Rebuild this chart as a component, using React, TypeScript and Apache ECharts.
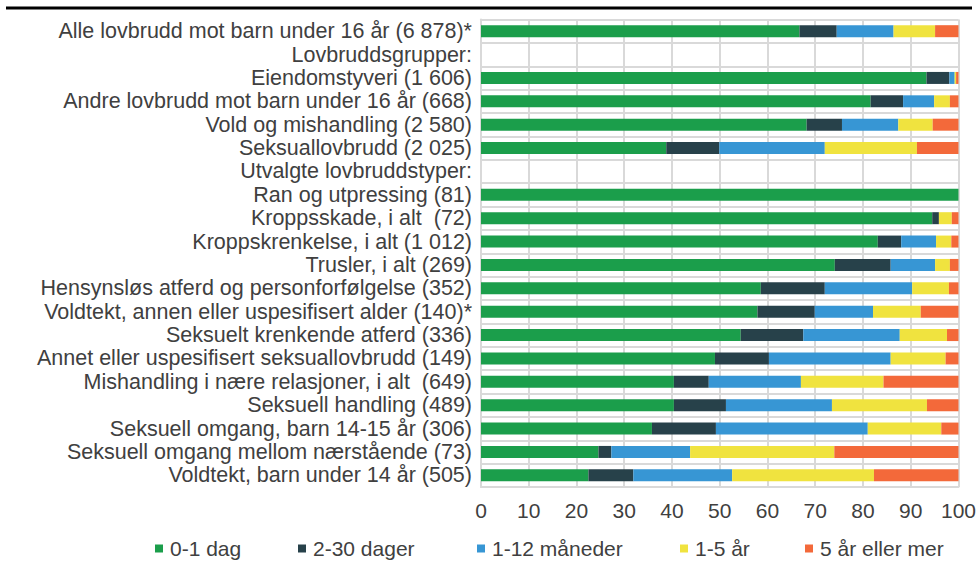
import React, { useEffect, useRef } from "react";
import * as echarts from "echarts";

const categories = [
  "Alle lovbrudd mot barn under 16 år (6 878)*",
  "Lovbruddsgrupper:",
  "Eiendomstyveri (1 606)",
  "Andre lovbrudd mot barn under 16 år (668)",
  "Vold og mishandling (2 580)",
  "Seksuallovbrudd (2 025)",
  "Utvalgte lovbruddstyper:",
  "Ran og utpressing (81)",
  "Kroppsskade, i alt  (72)",
  "Kroppskrenkelse, i alt (1 012)",
  "Trusler, i alt (269)",
  "Hensynsløs atferd og personforfølgelse (352)",
  "Voldtekt, annen eller uspesifisert alder (140)*",
  "Seksuelt krenkende atferd (336)",
  "Annet eller uspesifisert seksuallovbrudd (149)",
  "Mishandling i nære relasjoner, i alt  (649)",
  "Seksuell handling (489)",
  "Seksuell omgang, barn 14-15 år (306)",
  "Seksuell omgang mellom nærstående (73)",
  "Voldtekt, barn under 14 år (505)",
];

const seriesNames = ["0-1 dag", "2-30 dager", "1-12 måneder", "1-5 år", "5 år eller mer"];

const day01 = [66.7, null, 93.3, 81.6, 68.2, 38.8, null, 100, 94.5, 83.1, 74.1, 58.6, 57.9, 54.4, 49.0, 40.4, 40.4, 35.8, 24.6, 22.5];
const days230 = [7.8, null, 4.8, 6.8, 7.4, 11.1, null, 0, 1.4, 4.9, 11.7, 13.4, 12.0, 13.1, 11.3, 7.3, 10.9, 13.4, 2.7, 9.4];
const months112 = [11.9, null, 1.1, 6.5, 11.8, 22.1, null, 0, 0, 7.3, 9.3, 18.3, 12.2, 20.2, 25.5, 19.3, 22.2, 31.8, 16.5, 20.7];
const years15 = [8.7, null, 0.3, 3.3, 7.2, 19.3, null, 0, 2.7, 3.2, 3.1, 7.7, 10.0, 9.9, 11.5, 17.3, 19.9, 15.4, 30.2, 29.7];
const years5plus = [4.9, null, 0.5, 1.8, 5.4, 8.7, null, 0, 1.4, 1.5, 1.8, 2.0, 7.9, 2.4, 2.7, 15.7, 6.6, 3.6, 26.0, 17.7];

const xTicks = [0, 10, 20, 30, 40, 50, 60, 70, 80, 90, 100];

const colors = ["#1b9e4b", "#27414a", "#3796d4", "#f0e33f", "#f3693a"];
const legendLefts = [155, 298, 477, 680, 805];

export default function App() {
  const ref = useRef<HTMLDivElement>(null);
  useEffect(() => {
    document.body.style.margin = "0";
    const chart = echarts.init(ref.current!, null, { renderer: "svg" });
    const values = [day01, days230, months112, years15, years5plus];
    const font = "Arial, 'Liberation Sans', sans-serif";
    const gridColor = "#d9d9d9";
    chart.setOption({
      animation: false,
      backgroundColor: "#ffffff",
      grid: { left: 481, right: 20, top: 19.5, bottom: 74, containLabel: false },
      xAxis: {
        type: "value",
        min: xTicks[0],
        max: xTicks[xTicks.length - 1],
        interval: 10,
        axisLine: { show: true, lineStyle: { color: gridColor, width: 2 } },
        axisTick: { show: false },
        splitLine: { show: true, lineStyle: { color: gridColor, width: 2 } },
        axisLabel: { color: "#404040", fontSize: 21, fontFamily: font, margin: 13 },
      },
      yAxis: {
        type: "category",
        data: categories,
        inverse: true,
        axisLine: { show: true, lineStyle: { color: gridColor, width: 2 } },
        axisTick: { show: false },
        splitLine: { show: true, interval: 0, lineStyle: { color: gridColor, width: 2 } },
        axisLabel: { interval: 0, color: "#404040", fontSize: 21.5, fontFamily: font, margin: 9 },
      },
      legend: seriesNames.map((n, i) => ({
        data: [n],
        left: legendLefts[i],
        top: 538,
        itemWidth: 8,
        itemHeight: 8,
        itemGap: 0,
        padding: 0,
        icon: "rect",
        textStyle: { color: "#404040", fontSize: 21, fontFamily: font, padding: [0, 0, 0, 2] },
      })),
      graphic: [
        { type: "rect", shape: { x: 6, y: 6.5, width: 966, height: 3 }, style: { fill: "#000000" } },
      ],
      series: seriesNames.map((n, i) => ({
        name: n,
        type: "bar",
        stack: "total",
        barWidth: 12,
        itemStyle: { color: colors[i] },
        data: values[i],
      })),
    });
    return () => chart.dispose();
  }, []);
  return <div ref={ref} style={{ width: 979, height: 561 }} />;
}
